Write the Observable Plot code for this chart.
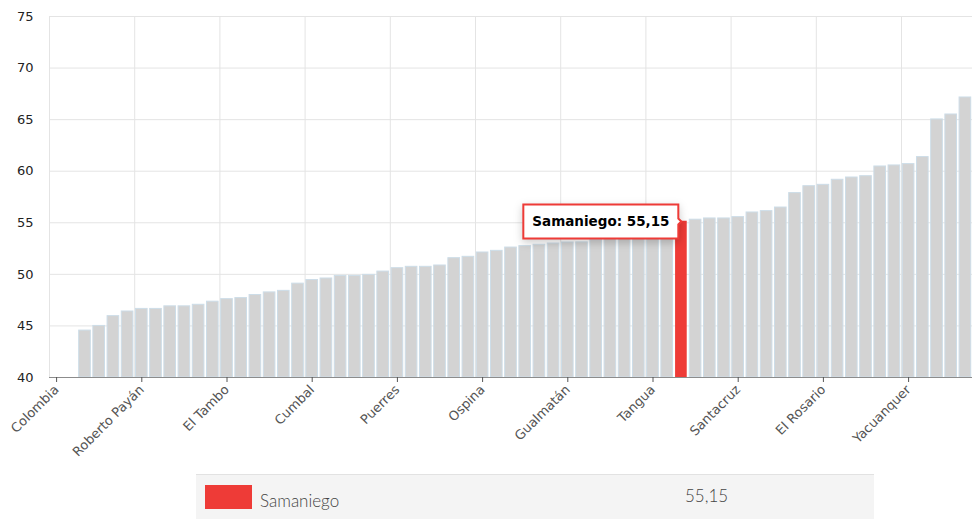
<!DOCTYPE html>
<html>
<head>
<meta charset="utf-8">
<script src="https://cdn.jsdelivr.net/npm/d3@7"></script>
<script src="https://cdn.jsdelivr.net/npm/@observablehq/plot@0.6"></script>
<style>
  html, body { margin: 0; padding: 0; background: #fff; }
  #wrap { position: relative; width: 974px; height: 519px; overflow: hidden; }
  #legend { position: absolute; left: 196px; top: 474px; width: 678px; height: 45px;
            background: #f4f4f4; border-top: 1px solid #e2e2e2; font-family: Lato, "Open Sans", sans-serif; font-weight: 300; color: #444; }
  #legend .sw { position: absolute; left: 9px; top: 10px; width: 47px; height: 24px; }
  #legend .nm { position: absolute; left: 64px; top: 15px; font-size: 17px; }
  #legend .vl { position: absolute; left: 489px; top: 10px; font-size: 17px; }
</style>
</head>
<body>
<div id="wrap">
  <div id="chart"></div>
  <div id="legend"><div class="sw"></div><div class="nm"></div><div class="vl"></div></div>
</div>
<script>
// Tick labels (every sixth category) and their positions in the category order
const tickNames = ["Colombia", "Roberto Payán", "El Tambo", "Cumbal", "Puerres", "Ospina",
                   "Gualmatán", "Tangua", "Santacruz", "El Rosario", "Yacuanquer"];
const tickPositions = [0, 6, 12, 18, 24, 30, 36, 42, 48, 54, 60];

// Values per category (index order); null = no visible bar
const values = [
  null, null, 44.55, 45.0, 45.95, 46.4, 46.65, 46.65, 46.9, 46.9,
  47.05, 47.35, 47.6, 47.7, 48.0, 48.25, 48.4, 49.1, 49.45, 49.6,
  49.85, 49.85, 49.95, 50.27, 50.6, 50.73, 50.73, 50.86, 51.57, 51.7,
  52.12, 52.28, 52.6, 52.74, 52.87, 52.99, 53.09, 53.1, 53.32, 53.8,
  54.1, 54.2, 54.3, 54.4, 55.15, 55.3, 55.42, 55.42, 55.55, 56.0,
  56.13, 56.48, 57.88, 58.55, 58.68, 59.17, 59.39, 59.52, 60.46, 60.56,
  60.69, 61.37, 65.02, 65.5, 67.15
];

const highlightName = "Samaniego";
const highlightIndex = 44;
const highlightLabel = "55,15";

const yTicks = [40, 45, 50, 55, 60, 65, 70, 75];

const red = "#ee3b37";
const gray = "#d3d3d3";

const data = values.map((v, i) => ({i, v})).filter(d => d.v != null);
const others = data.filter(d => d.i !== highlightIndex);
const hl = data.filter(d => d.i === highlightIndex);

const W = 974, mL = 49, mR = 2;
const step = (W - mL - mR) / values.length;

const chart = Plot.plot({
  width: W,
  height: 470,
  marginLeft: mL,
  marginRight: mR,
  marginTop: 16,
  marginBottom: 93,
  style: {fontFamily: "'DejaVu Sans', Verdana, sans-serif", background: "transparent", overflow: "visible"},
  x: {type: "band", domain: d3.range(values.length), paddingInner: 0.18, paddingOuter: 0.09, round: false},
  y: {domain: [40, 75]},
  marks: [
    Plot.ruleY(yTicks, {stroke: "#e4e4e4", strokeWidth: 1}),
    Plot.ruleX(tickPositions, {x: d => d, dx: -step / 2, stroke: "#e4e4e4", strokeWidth: 1}),
    Plot.barY(others, {x: "i", y1: 40, y2: "v", fill: gray, stroke: "#cddde8", strokeWidth: 1}),
    Plot.barY(hl, {x: "i", y1: 40, y2: "v", fill: red}),
    Plot.ruleY([40], {stroke: "#8c8c8c"}),
    Plot.axisY({ticks: yTicks, tickSize: 0, tickPadding: 16, fontSize: 13, color: "#222", label: null}),
    Plot.axisX({ticks: tickPositions, tickFormat: i => tickNames[tickPositions.indexOf(i)],
                tickRotate: -45, tickSize: 5, tickPadding: 5, fontSize: 13, color: "#555", label: null}),
    Plot.tip(hl, {x: "i", y: "v", title: d => `${highlightName}: ${highlightLabel}`,
                  anchor: "right", fill: "white", stroke: red, strokeWidth: 2,
                  fontSize: 13.5, fontWeight: "bold", pointerSize: 6, textPadding: 9})
  ]
});
document.getElementById("chart").appendChild(chart);

const lg = document.getElementById("legend");
lg.querySelector(".sw").style.background = red;
lg.querySelector(".nm").textContent = highlightName;
lg.querySelector(".vl").textContent = highlightLabel;
</script>
</body>
</html>
